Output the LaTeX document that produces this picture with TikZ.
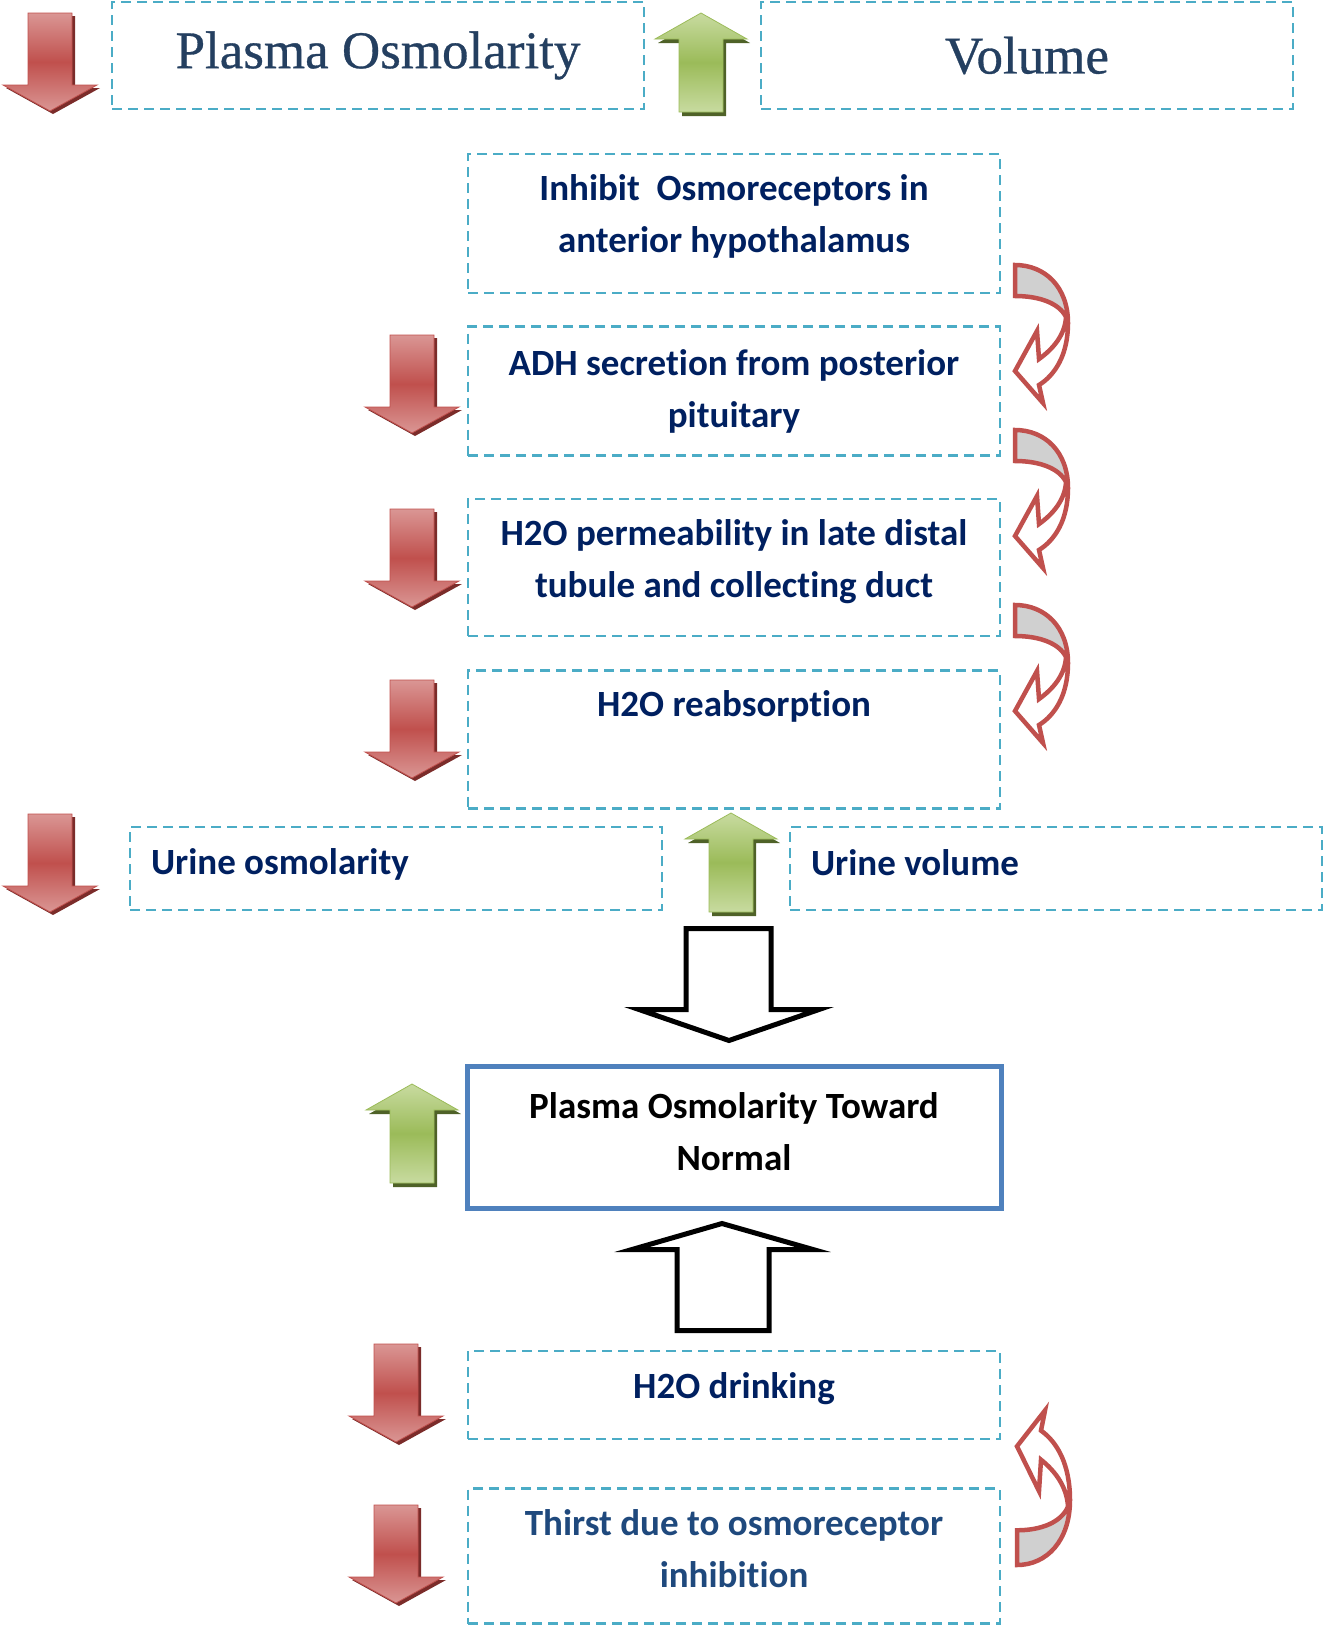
\documentclass[tikz,border=0pt]{standalone}
\usepackage{fontspec}
\newfontfamily\bodyfont[Ligatures=NoCommon]{Carlito}
\newfontfamily\headfont[FakeBold=0.6]{Liberation Serif}
\usetikzlibrary{positioning,calc}

\definecolor{dashblue}{HTML}{4BACC6}
\definecolor{navy}{HTML}{002060}
\definecolor{headnavy}{HTML}{243F60}
\definecolor{thirstblue}{HTML}{1F497D}
\definecolor{normalblue}{HTML}{4F81BD}
\definecolor{redmid}{HTML}{C0504D}
\definecolor{redlight}{HTML}{DA9694}
\definecolor{redshadow}{HTML}{7B2C2A}
\definecolor{greenmid}{HTML}{9BBB59}
\definecolor{greenlight}{HTML}{C8DBA0}
\definecolor{greenshadow}{HTML}{4F6228}
\definecolor{backgray}{HTML}{D0D0D0}

% block arrow outlines, y grows downwards
\newcommand{\fallshape}{(-22,0) -- (22,0) -- (22,72) -- (47,72) -- (0,98) -- (-47,72) -- (-22,72) -- cycle}
\newcommand{\riseshape}{(0,0) -- (46,26) -- (22,26) -- (22,99) -- (-22,99) -- (-22,26) -- (-46,26) -- cycle}
\newcommand{\curlshape}{(0,0) .. controls (30,0) and (53,22) .. (53,58) .. controls (53,90) and (40,110) .. (24,120) -- (28,138) -- (0,106) -- (22,66) -- (24,94) .. controls (38,84) and (50,70) .. (51,52) .. controls (44,38) and (24,31) .. (0,31) -- cycle}
\newcommand{\curlback}{(0,0) .. controls (30,0) and (52,20) .. (51,52) .. controls (44,38) and (24,31) .. (0,31) -- cycle}

\newcommand{\fallarrow}[1]{\begin{scope}[shift={#1}]
  \fill[redshadow, xshift=3pt, yshift=-3pt] \fallshape;
  \draw[redarr] \fallshape;
\end{scope}}
\newcommand{\risearrow}[1]{\begin{scope}[shift={#1}]
  \fill[greenshadow, xshift=3pt, yshift=-4pt] \riseshape;
  \draw[greenarr] \riseshape;
\end{scope}}
\newcommand{\curlarrow}[1]{\begin{scope}[#1]
  \fill[backgray] \curlback;
  \draw[curl] \curlshape;
\end{scope}}

\begin{document}
\begin{tikzpicture}[
  x=1pt, y=-1pt,
  dbox/.style={draw=dashblue, line width=2.5pt, dash pattern=on 10pt off 6pt, minimum width=532pt, inner sep=0pt, align=center, text=navy, font=\bodyfont\bfseries\fontsize{37}{52}\selectfont},
  headbox/.style={dbox, minimum height=107pt, text=headnavy, font=\headfont\fontsize{53}{60}\selectfont},
  sidebox/.style={dbox, minimum height=83pt, inner xsep=21pt, text width=490pt, align=flush left},
  redarr/.style={draw=redmid, line width=0.8pt, top color=redlight, bottom color=redlight, middle color=redmid},
  greenarr/.style={draw=greenmid, line width=0.8pt, top color=greenlight, bottom color=greenlight, middle color=greenmid},
  curl/.style={draw=redmid, line width=4.5pt, line join=miter},
  hollow/.style={draw=black, line width=5pt, fill=white, line join=miter}
]
\useasboundingbox (0,0) rectangle (1327,1630);

% top row
\node[headbox] (posm) at (378,55.5) {Plasma Osmolarity};
\node[headbox] (vol) at (1027,55.5) {Volume};
\fallarrow{(50,13)}
\risearrow{(701,13)}

% ADH chain
\node[dbox, minimum height=139pt] (inhib) at (734,223.5) {Inhibit\ \ Osmoreceptors in\\anterior hypothalamus\\[-32pt]\mbox{}};
\node[dbox, minimum height=129pt, below=31pt of inhib] (adh) {ADH secretion from posterior\\pituitary};
\node[dbox, minimum height=137pt, below=41pt of adh] (perm) {H2O permeability in late distal\\tubule and collecting duct\\[-34pt]\mbox{}};
\node[dbox, minimum height=138pt, below=32pt of perm] (reabs) {H2O reabsorption\\[20pt]\mbox{}};
\fallarrow{(412,335)}
\fallarrow{(412,509)}
\fallarrow{(412,680)}
\curlarrow{shift={(1015,265)}}
\curlarrow{shift={(1015,430)}}
\curlarrow{shift={(1015,605)}}

% urine
\node[sidebox] (uosm) at (396,868.5) {Urine osmolarity\\[-38pt]\mbox{}};
\node[sidebox] (uvol) at (1056,868.5) {Urine volume\\[-40pt]\mbox{}};
\fallarrow{(50,814)}
\risearrow{(731,813)}

% result
\node[dbox, draw=normalblue, solid, line width=5pt, minimum width=534pt, minimum height=142pt, text=black] (normal) at (734,1137) {Plasma Osmolarity Toward\\Normal\\[-42pt]\mbox{}};
\risearrow{(412,1084)}
\begin{scope}[shift={(normal.north)}]
  \draw[hollow] (-48,-135) -- (37,-135) -- (37,-54) -- (85,-54) -- (-5,-23) -- (-95,-54) -- (-48,-54) -- cycle;
\end{scope}
\begin{scope}[shift={(normal.south)}]
  \draw[hollow] (-57,120) -- (-57,39) -- (-102,39) -- (-12,13) -- (79,39) -- (35,39) -- (35,120) -- cycle;
\end{scope}

% thirst
\node[dbox, minimum height=88pt] (drink) at (734,1395) {H2O drinking\\[-34pt]\mbox{}};
\node[dbox, minimum height=135pt, text=thirstblue, below=47pt of drink] (thirst) {Thirst due to osmoreceptor\\inhibition\\[-36pt]\mbox{}};
\fallarrow{(396,1344)}
\fallarrow{(396,1505)}
\curlarrow{shift={(1017,1565)}, yscale=-1.12}
\end{tikzpicture}
\end{document}
